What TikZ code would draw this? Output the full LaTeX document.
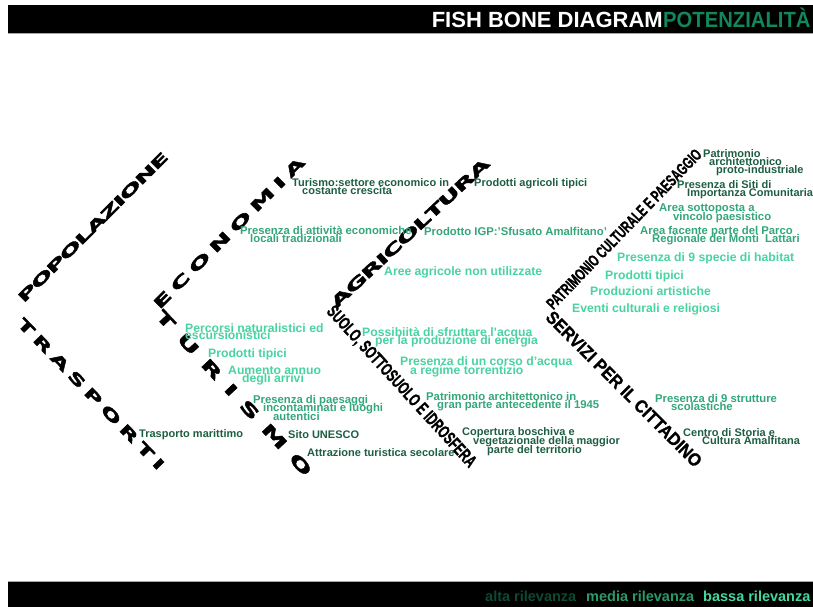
\documentclass[tikz,border=0pt]{standalone}
\usepackage{fontspec}
\setmainfont{Liberation Sans}
\newfontfamily\widefont{DejaVu Sans}[FakeBold=2]
\newfontfamily\condfont{Liberation Sans}[FakeBold=1.2]
\usepackage{graphicx}
\definecolor{hiC}{HTML}{1D5E42}
\definecolor{midC}{HTML}{33A67A}
\definecolor{loC}{HTML}{48D3A0}
\definecolor{ftA}{HTML}{0C4A32}
\definecolor{ftM}{HTML}{2A9A6A}
\definecolor{ftB}{HTML}{44D89E}
\definecolor{potC}{HTML}{12875A}
\makeatletter
\def\spreadletters#1#2{\def\sp@gap{#1}\sp@loop#2\relax}
\def\sp@loop#1{\ifx#1\relax\kern-\sp@gap\relax\else#1\kern\sp@gap\relax\expandafter\sp@loop\fi}
\makeatother
\newcommand\bonetext[3]{\resizebox{#1pt}{#2pt}{\condfont\bfseries #3}}
\newcommand\widebone[4]{\resizebox{#1pt}{#2pt}{\widefont\bfseries\spreadletters{#3}{#4}}}
\newcommand\lblines[2][8.5pt]{\vtop{\baselineskip=#1\lineskiplimit=-100pt\lineskip=0pt #2}}
\newcommand\fD{\fontsize{11}{11}\selectfont\bfseries}
\newcommand\fM{\fontsize{11.3}{11}\selectfont\bfseries}
\newcommand\fL{\fontsize{12.2}{12}\selectfont\bfseries}
\tikzset{
  bone/.style={inner sep=0pt, anchor=center, text=black},
  lab/.style={anchor=base west, inner sep=0pt},
  hi/.style={lab, text=hiC, font=\fD},
  mid/.style={lab, text=midC, font=\fM},
  lo/.style={lab, text=loC, font=\fL},
}
\begin{document}
\begin{tikzpicture}[x=1pt,y=-1pt]
\useasboundingbox (0,0) rectangle (813,607);
% header and footer bars
\fill[black] (8,5) rectangle (813,33);
\fill[gray!70] (8,33) rectangle (813,34.2);
\fill[black] (8,582) rectangle (813,607);
\fill[gray!70] (8,580.8) rectangle (813,582);
\node[anchor=base east, inner sep=0pt, text=white, font=\fontsize{22}{22}\selectfont\bfseries] (title) at (663,28) {FISH BONE DIAGRAM};
\node[anchor=base west, inner sep=0pt, text=potC] (pot) at (663,28) {\scalebox{0.92}[1]{\fontsize{22}{22}\selectfont\bfseries POTENZIALITÀ}};
\node[anchor=base west, inner sep=0pt, text=ftA, font=\fontsize{14.5}{15}\selectfont\bfseries] (alta) at (485,601) {alta rilevanza};
\node[anchor=base west, inner sep=0pt, text=ftM, font=\fontsize{14.5}{15}\selectfont\bfseries] (media) at (586,601) {media rilevanza};
\node[anchor=base west, inner sep=0pt, text=ftB, font=\fontsize{14.5}{15}\selectfont\bfseries] (bassa) at (703,601) {bassa rilevanza};
% bones
\node[bone, rotate=45] (popol) at (93,227) {\widebone{206}{10.5}{-0.5pt}{POPOLAZIONE}};
\node[bone, rotate=-46] (trasp) at (91,394) {\widebone{204}{11}{2pt}{TRASPORTI}};
\node[bone, rotate=45] (econ) at (229,233) {\widebone{207}{11}{2pt}{ECONOMIA}};
\node[bone, rotate=-47] (turis) at (234,393) {\widebone{220}{12}{4pt}{TURISMO}};
\node[bone, rotate=43] (agri) at (410,233) {\widebone{211}{11}{-0.5pt}{AGRICOLTURA}};
\node[bone, rotate=-47.5] (suolo) at (401,387) {\bonetext{212}{12.5}{SUOLO, SOTTOSUOLO E IDROSFERA}};
\node[bone, rotate=46] (patr) at (624,229) {\bonetext{215}{11.5}{PATRIMONIO CULTURALE E PAESAGGIO}};
\node[bone, rotate=-45] (serv) at (624,389) {\bonetext{212}{12.5}{SERVIZI PER IL CITTADINO}};
% economia
\node[hi] (eco1) at (292,186) {\lblines{\hbox{Turismo:settore economico in}\hbox{\kern10pt costante crescita}}};
\node[mid] (eco2) at (240,234) {\lblines{\hbox{Presenza di attività economiche}\hbox{\kern10pt locali tradizionali}}};
% agricoltura
\node[hi] (agr1) at (474,186) {Prodotti agricoli tipici};
\node[mid] (agr2) at (424,235) {Prodotto IGP:'Sfusato Amalfitano'};
\node[lo] (agr3) at (384,275) {Aree agricole non utilizzate};
% patrimonio
\node[hi] (pat1) at (703,157) {\lblines{\hbox{Patrimonio}\hbox{\kern6pt architettonico}\hbox{\kern13pt proto-industriale}}};
\node[hi] (pat2) at (677,188) {\lblines{\hbox{Presenza di Siti di}\hbox{\kern10pt Importanza Comunitaria}}};
\node[mid] (pat3) at (659,211) {\lblines[9.5pt]{\hbox{Area sottoposta a}\hbox{\kern14pt vincolo paesistico}}};
\node[mid] (pat4) at (640,234) {\lblines{\hbox{Area facente parte del Parco}\hbox{\kern12pt Regionale dei Monti\ \ Lattari}}};
\node[lo] (pat5) at (617,261) {Presenza di 9 specie di habitat};
\node[lo] (pat6) at (605,279) {Prodotti tipici};
\node[lo] (pat7) at (590,295) {Produzioni artistiche};
\node[lo] (pat8) at (572,312) {Eventi culturali e religiosi};
% turismo
\node[lo] (tur1) at (185,332) {\lblines[7.5pt]{\hbox{Percorsi naturalistici ed}\hbox{escursionistici}}};
\node[lo] (tur2) at (208,357) {Prodotti tipici};
\node[lo] (tur3) at (228,374) {\lblines[8pt]{\hbox{Aumento annuo}\hbox{\kern14pt degli arrivi}}};
\node[mid] (tur4) at (253,403) {\lblines{\hbox{Presenza di paesaggi}\hbox{\kern10pt incontaminati e luoghi}\hbox{\kern20pt autentici}}};
\node[hi] (tur5) at (288,438) {Sito UNESCO};
\node[hi] (tur6) at (307,456) {Attrazione turistica secolare};
% trasporti
\node[hi] (tra1) at (139,437) {Trasporto marittimo};
% suolo
\node[lo] (suo1) at (362,336) {\lblines[8pt]{\hbox{Possibiità di sfruttare l'acqua}\hbox{\kern13pt per la produzione di energia}}};
\node[lo] (suo2) at (400,365) {\lblines[9pt]{\hbox{Presenza di un corso d'acqua}\hbox{\kern10pt a regime torrentizio}}};
\node[mid] (suo3) at (426,400) {\lblines[8pt]{\hbox{Patrimonio architettonico in}\hbox{\kern11pt gran parte antecedente il 1945}}};
\node[hi] (suo4) at (462,435) {\lblines[9pt]{\hbox{Copertura boschiva e}\hbox{\kern11pt vegetazionale della maggior}\hbox{\kern25pt parte del territorio}}};
% servizi
\node[mid] (ser1) at (655,402) {\lblines[8pt]{\hbox{Presenza di 9 strutture}\hbox{\kern16pt scolastiche}}};
\node[hi] (ser2) at (683,436) {\lblines[8pt]{\hbox{Centro di Storia e}\hbox{\kern19pt Cultura Amalfitana}}};
\end{tikzpicture}
\end{document}
